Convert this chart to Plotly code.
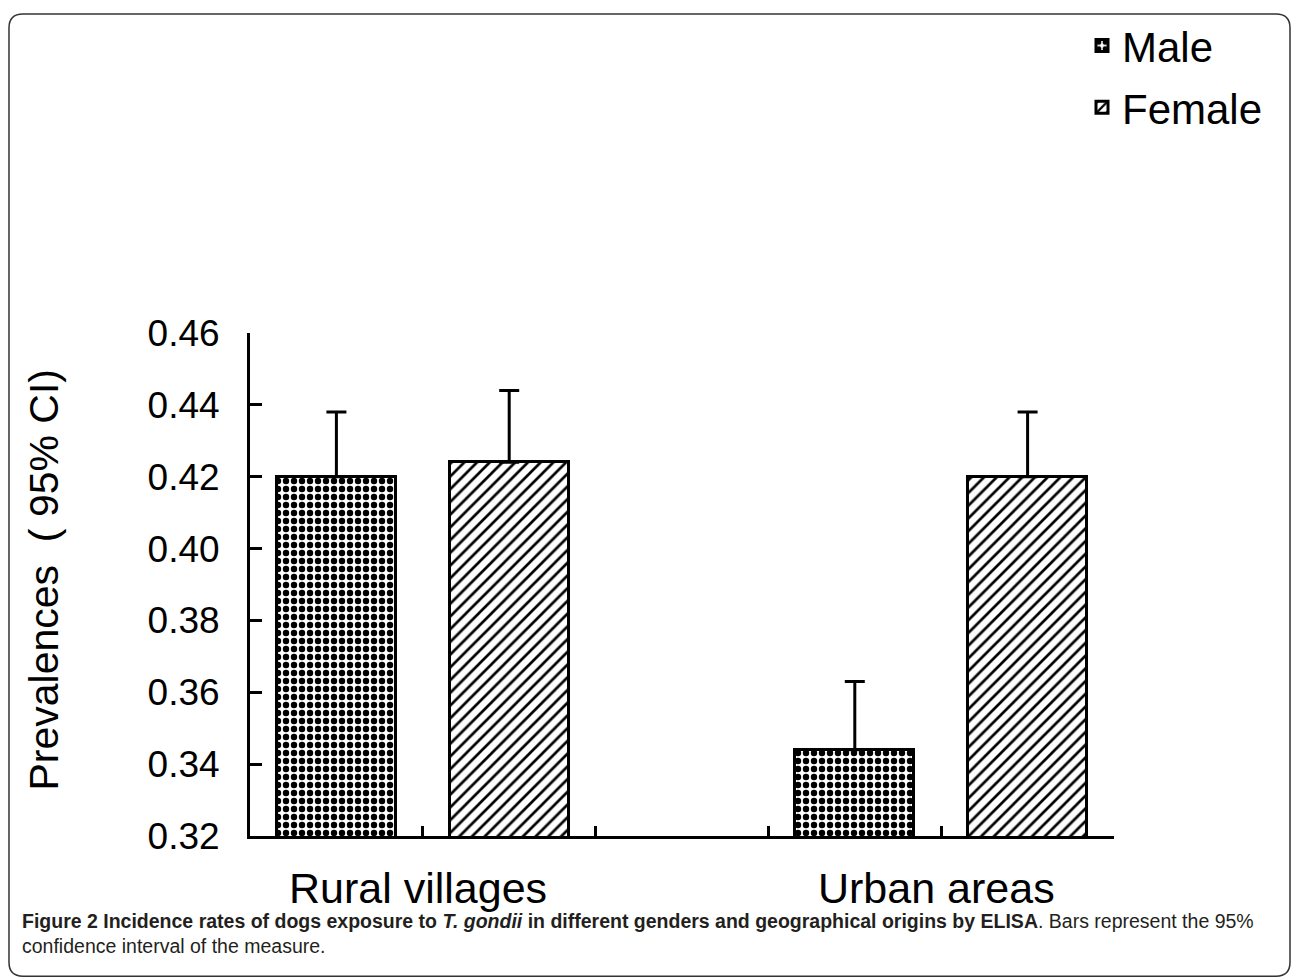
import plotly.graph_objects as go

# ---- data ----
categories = ["Rural villages", "Urban areas"]
genders = ["Male", "Female"]
male_prev = [0.420, 0.344]
female_prev = [0.424, 0.420]
male_ci_upper = [0.438, 0.363]
female_ci_upper = [0.444, 0.438]
y_ticks = [0.32, 0.34, 0.36, 0.38, 0.40, 0.42, 0.44, 0.46]
y_title = "Prevalences  ( 95% CI)"
caption = ("<b>Figure 2 Incidence rates of dogs exposure to <i>T. gondii</i> in different genders "
           "and geographical origins by ELISA</b>. Bars represent the 95%<br>"
           "confidence interval of the measure.")

# ---- layout geometry ----
W, H = 1293, 980
L, R, T, B = 250, 179, 330, 144
PW, PH = W - L - R, H - T - B

def px(xp):
    return (xp - L) / PW

def py(yp):
    return (H - B - yp) / PH

slots_per_group = 3
n_slots = slots_per_group * len(categories) - 1

def positions(gender_idx):
    return [ci * slots_per_group + gender_idx + 0.5 for ci in range(len(categories))]

fig = go.Figure()
series = [
    ("Male", male_prev, male_ci_upper, dict(shape=".", size=8, solidity=0.5)),
    ("Female", female_prev, female_ci_upper, dict(shape="/", size=9, solidity=0.3)),
]
for gi, (name, vals, upper, pat) in enumerate(series):
    fig.add_trace(go.Bar(
        x=positions(gi), y=vals, name=name, width=0.69,
        marker=dict(color="white", line=dict(color="black", width=3),
                    pattern=dict(fgcolor="black", bgcolor="white", fillmode="replace", **pat)),
        error_y=dict(type="data", symmetric=False,
                     array=[u - v for u, v in zip(upper, vals)],
                     arrayminus=[0] * len(vals),
                     color="black", thickness=3, width=10),
        legend="legend" if gi == 0 else "legend2",
    ))

font_main = "Arial, Liberation Sans, sans-serif"

annotations = []
for ci, cat in enumerate(categories):
    annotations.append(dict(x=ci * slots_per_group + 1, y=py(888), xref="x", yref="paper",
                            text=cat, showarrow=False, xanchor="center", yanchor="middle",
                            xshift=-5,
                            font=dict(family=font_main, size=43, color="black")))
annotations.append(dict(x=px(44), y=py(578), xref="paper", yref="paper", text=y_title,
                        textangle=-90, showarrow=False, xanchor="center", yanchor="middle",
                        font=dict(family=font_main, size=41, color="black")))
annotations.append(dict(x=px(20), y=py(908), xref="paper", yref="paper", text=caption,
                        showarrow=False, xanchor="left", yanchor="top", align="left",
                        font=dict(family="Liberation Sans, Arial, sans-serif",
                                  size=19.5, color="#231f20")))

# rounded frame
l, r, t, b, rad = 9, 1290, 9, 977, 14
def P(a, c):
    return f"{px(a):.5f},{py(c):.5f}"
path = (f"M {P(l + rad, t)} L {P(r - rad, t)} Q {P(r, t)} {P(r, t + rad)} "
        f"L {P(r, b - rad)} Q {P(r, b)} {P(r - rad, b)} L {P(l + rad, b)} "
        f"Q {P(l, b)} {P(l, b - rad)} L {P(l, t + rad)} Q {P(l, t)} {P(l + rad, t)} Z")
shapes = [dict(type="path", path=path, xref="paper", yref="paper",
               line=dict(color="#333333", width=1.5), layer="below")]

fig.update_layout(
    width=W, height=H, autosize=False,
    margin=dict(l=L, r=R, t=T, b=B, pad=0),
    paper_bgcolor="white", plot_bgcolor="white",
    barmode="overlay", bargap=0,
    showlegend=True,
    legend=dict(x=px(1082), y=py(41), xanchor="left", yanchor="middle",
                font=dict(family=font_main, size=42, color="black"), bgcolor="rgba(0,0,0,0)"),
    legend2=dict(x=px(1082), y=py(103), xanchor="left", yanchor="middle",
                 font=dict(family=font_main, size=42, color="black"), bgcolor="rgba(0,0,0,0)"),
    xaxis=dict(range=[0, n_slots], tickvals=list(range(n_slots + 1)), showticklabels=False,
               ticks="inside", ticklen=10, tickwidth=3, tickcolor="black",
               showline=True, linecolor="black", linewidth=3, showgrid=False, zeroline=False,
               fixedrange=True),
    yaxis=dict(range=[y_ticks[0], y_ticks[-1]], tickvals=y_ticks, tickformat=".2f",
               ticks="inside", ticklen=12, tickwidth=3, tickcolor="black",
               ticklabelstandoff=20,
               tickfont=dict(family=font_main, size=37, color="black"),
               showline=True, linecolor="black", linewidth=3, showgrid=False, zeroline=False),
    annotations=annotations,
    shapes=shapes,
)

fig.write_html("out.html", config={"displayModeBar": False},
               post_script="document.body.style.margin='0';document.body.style.overflow='hidden';")
